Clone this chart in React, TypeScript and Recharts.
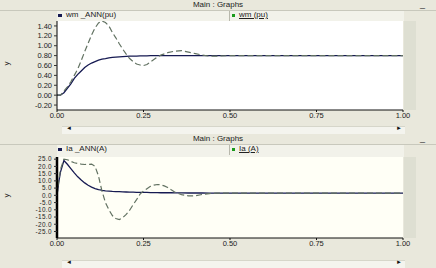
import React from 'react';
import { LineChart, Line, XAxis, YAxis, CartesianGrid } from 'recharts';

const timeTop = [0, 0.01, 0.02, 0.03, 0.04, 0.05, 0.06, 0.07, 0.08, 0.09, 0.1, 0.11, 0.12, 0.13, 0.14, 0.15, 0.16, 0.17, 0.18, 0.19, 0.2, 0.21, 0.22, 0.23, 0.24, 0.25, 0.26, 0.27, 0.28, 0.29, 0.3, 0.32, 0.34, 0.36, 0.38, 0.4, 0.42, 0.44, 0.46, 0.5, 0.6, 0.7, 0.8, 0.9, 1.0];
const wmAnn = [0, 0, 0.05, 0.14, 0.23, 0.34, 0.42, 0.49, 0.56, 0.61, 0.65, 0.68, 0.71, 0.73, 0.74, 0.755, 0.765, 0.77, 0.775, 0.78, 0.785, 0.79, 0.79, 0.79, 0.795, 0.795, 0.795, 0.8, 0.8, 0.8, 0.8, 0.8, 0.8, 0.8, 0.8, 0.8, 0.8, 0.8, 0.8, 0.8, 0.8, 0.8, 0.8, 0.8, 0.8];
const wm = [0, 0, 0.08, 0.17, 0.27, 0.4, 0.53, 0.7, 0.88, 1.05, 1.22, 1.36, 1.46, 1.5, 1.47, 1.4, 1.27, 1.16, 1.04, 0.93, 0.83, 0.74, 0.68, 0.63, 0.61, 0.6, 0.62, 0.67, 0.72, 0.77, 0.81, 0.86, 0.89, 0.9, 0.87, 0.84, 0.81, 0.79, 0.79, 0.8, 0.8, 0.8, 0.8, 0.8, 0.8];

const timeBottom = [0, 0.005, 0.01, 0.02, 0.03, 0.04, 0.05, 0.06, 0.07, 0.08, 0.09, 0.1, 0.11, 0.12, 0.125, 0.13, 0.14, 0.15, 0.16, 0.17, 0.18, 0.19, 0.2, 0.21, 0.22, 0.23, 0.24, 0.25, 0.26, 0.27, 0.28, 0.29, 0.3, 0.31, 0.32, 0.33, 0.34, 0.36, 0.38, 0.4, 0.42, 0.44, 0.46, 0.5, 0.6, 0.7, 0.8, 0.9, 1.0];
const iaAnn = [0, 9, 16, 24, 21.5, 18.5, 15.5, 12.8, 10.6, 8.6, 7, 5.7, 4.7, 4, 3.7, 3.4, 3.1, 2.9, 2.7, 2.6, 2.5, 2.4, 2.3, 2.2, 2.2, 2.1, 2.1, 2, 2, 1.9, 1.9, 1.9, 1.8, 1.8, 1.8, 1.8, 1.7, 1.7, 1.6, 1.6, 1.6, 1.5, 1.5, 1.5, 1.5, 1.5, 1.5, 1.5, 1.5];
const ia = [0, 10, 18, 25, 24.6, 23.5, 22.5, 22, 21.6, 21.3, 21.4, 21.6, 20, 13.3, 8, 3, -5, -10, -14, -16, -16.8, -15.5, -13.2, -10.3, -6.5, -3, 0.8, 3, 4.6, 6.2, 7, 7.5, 7.3, 6.5, 5.4, 3.8, 2.3, 0.5, -0.4, -0.3, 0.6, 1.2, 1.5, 1.5, 1.5, 1.5, 1.5, 1.5, 1.5];

const xTicks = [0, 0.25, 0.5, 0.75, 1];
const yTicksTop = [-0.2, 0, 0.2, 0.4, 0.6, 0.8, 1.0, 1.2, 1.4];
const yTicksBottom = [-25, -20, -15, -10, -5, 0, 5, 10, 15, 20, 25];

const topData = timeTop.map((t, i) => ({ t, ann: wmAnn[i], ref: wm[i] }));
const bottomData = timeBottom.map((t, i) => ({ t, ann: iaAnn[i], ref: ia[i] }));

const FONT = '"Liberation Sans", Arial, sans-serif';
const PANEL = '#e9e8dc';
const ANN_COLOR = '#161a52';
const REF_COLOR = '#627262';

const tickStyle = { fontSize: 7.5, fill: '#222', fontFamily: FONT };

function Panel(props: {
  top: number;
  data: { t: number; ann: number; ref: number }[];
  annName: string;
  refName: string;
  yTicks: number[];
  domain: [number, number];
  decimals: number;
  marginTop: number;
  marginBottom: number;
  axisWidth: number;
  plotFill: string;
  yFont: number;
}) {
  const { top, data, annName, refName, yTicks, domain, decimals, marginTop, marginBottom, axisWidth, plotFill, yFont } = props;
  const plotBottom = 134 - marginBottom - 14;
  return (
    <div style={{ position: 'absolute', left: 0, top, width: 436, height: 134, background: PANEL, fontFamily: FONT }}>
      <div style={{ position: 'absolute', left: 0, top: 0, width: 436, height: 10, fontSize: 8, color: '#222', textAlign: 'center', lineHeight: '10px' }}>
        Main : Graphs
      </div>
      <div style={{ position: 'absolute', left: 420, top: 0, fontSize: 9, lineHeight: '8px', color: '#333' }}>_</div>
      <div style={{ position: 'absolute', left: 0, top: 10, width: 436, height: 1, background: '#c8c8bc' }} />
      <div style={{ position: 'absolute', left: 57, top: 11, width: 347, height: marginTop - 11, background: '#f2f2ea' }} />
      <div style={{ position: 'absolute', left: 229, top: 11, width: 1, height: 10, background: '#b8b8ac' }} />
      <div style={{ position: 'absolute', left: 58, top: 14, width: 4, height: 3, background: ANN_COLOR }} />
      <div style={{ position: 'absolute', left: 66, top: 10, fontSize: 8, lineHeight: '10px', color: '#222' }}>{annName}</div>
      <div style={{ position: 'absolute', left: 232, top: 14, width: 3, height: 3, background: '#1a9a1a' }} />
      <div style={{ position: 'absolute', left: 239, top: 10, fontSize: 8, lineHeight: '10px', color: '#222', textDecoration: 'underline' }}>{refName}</div>
      <div style={{ position: 'absolute', left: 404, top: marginTop, width: 12, height: plotBottom - marginTop, background: '#dedfd2' }} />
      <div style={{ position: 'absolute', left: 0, top: 0 }}>
        <LineChart width={436} height={134} data={data} margin={{ top: marginTop, right: 33, bottom: marginBottom, left: 0 }}>
          <CartesianGrid horizontal={false} vertical={false} fill={plotFill} />
          <XAxis
            dataKey="t"
            type="number"
            domain={[0, 1]}
            ticks={xTicks}
            interval={0}
            tickFormatter={(v: number) => v.toFixed(2)}
            tick={tickStyle}
            tickSize={2}
            tickMargin={1}
            height={14}
            stroke="#111"
          />
          <YAxis
            type="number"
            domain={domain}
            ticks={yTicks}
            interval={0}
            allowDataOverflow
            tickFormatter={(v: number) => v.toFixed(decimals)}
            tick={{ ...tickStyle, fontSize: yFont, letterSpacing: yFont < 7 ? 0.4 : 0 }}
            tickSize={3}
            tickMargin={2}
            width={57}
            axisLine={{ stroke: '#000', strokeWidth: axisWidth }}
            tickLine={{ stroke: '#333' }}
            label={{ value: 'y', angle: -90, position: 'insideLeft', offset: 6, style: { fontSize: 8, fill: '#222', fontFamily: FONT } }}
          />
          <Line type="linear" dataKey="ann" stroke={ANN_COLOR} strokeWidth={1.3} dot={false} isAnimationActive={false} />
          <Line type="linear" dataKey="ref" stroke={REF_COLOR} strokeWidth={1.2} strokeDasharray="6 3" dot={false} isAnimationActive={false} />
        </LineChart>
      </div>
      <div style={{ position: 'absolute', left: 62, top: 126, width: 343, height: 7, background: '#f4f4ee', borderTop: '1px solid #d6d6ca' }} />
      <div style={{ position: 'absolute', left: 66, top: 125, fontSize: 6, color: '#111' }}>◄</div>
      <div style={{ position: 'absolute', left: 396, top: 125, fontSize: 6, color: '#111' }}>►</div>
    </div>
  );
}

export default function App() {
  return (
    <div style={{ position: 'absolute', left: 0, top: 0, width: 436, height: 268, background: PANEL, overflow: 'hidden' }}>
      <Panel
        top={0}
        data={topData}
        annName="wm _ANN(pu)"
        refName="wm (pu)"
        yTicks={yTicksTop}
        domain={[-0.3, 1.5]}
        decimals={2}
        marginTop={21}
        marginBottom={10}
        axisWidth={1}
        plotFill="#ffffff"
        yFont={7.5}
      />
      <Panel
        top={134}
        data={bottomData}
        annName="Ia _ANN(A)"
        refName="Ia (A)"
        yTicks={yTicksBottom}
        domain={[-29.5, 26.5]}
        decimals={1}
        marginTop={23}
        marginBottom={16}
        axisWidth={2.5}
        plotFill="#fffff6"
        yFont={6.4}
      />
    </div>
  );
}
